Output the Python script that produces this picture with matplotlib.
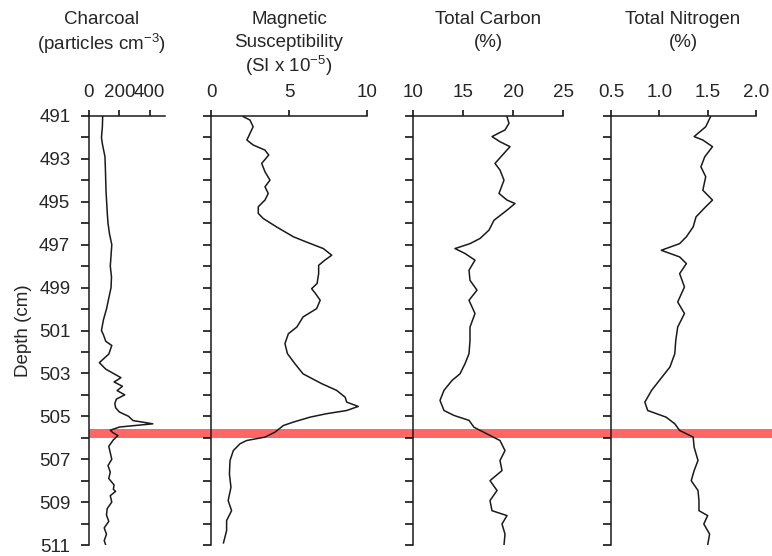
import matplotlib.pyplot as plt
from matplotlib.patches import Rectangle
from matplotlib.transforms import blended_transform_factory

plt.rcParams['font.family'] = ['Liberation Sans', 'DejaVu Sans']
plt.rcParams['mathtext.fontset'] = 'custom'
plt.rcParams['mathtext.rm'] = 'Liberation Sans'
plt.rcParams['mathtext.it'] = 'Liberation Sans:italic'

# charcoal (particles cm-3)
char_depth = [491.0, 491.5, 492.0, 492.3, 492.9, 493.5, 494.0, 494.5, 495.0, 495.5,
              496.0, 496.5, 497.0, 497.5, 498.0, 498.5, 499.0, 499.5, 500.0, 500.5,
              501.0, 501.2, 501.5, 501.7, 501.9, 502.1, 502.5, 502.8, 503.0, 503.2,
              503.4, 503.6, 503.8, 504.0, 504.2, 504.4, 504.6, 504.8, 505.0, 505.2,
              505.35, 505.5, 505.65, 505.75, 505.9, 506.1, 506.4, 506.7, 507.0, 507.3,
              507.6, 507.9, 508.2, 508.4, 508.5, 508.7, 509.0, 509.3, 509.6, 509.9,
              510.2, 510.5, 510.8, 511.0]
charcoal = [90, 88, 82, 88, 105, 108, 110, 112, 116, 120,
            125, 135, 150, 145, 140, 148, 145, 130, 115, 95,
            82, 95, 110, 150, 140, 130, 68, 110, 160, 210,
            165, 220, 185, 235, 180, 170, 175, 200, 260, 290,
            420, 200, 140, 155, 190, 160, 130, 140, 150, 125,
            140, 130, 165, 160, 175, 140, 150, 120, 115, 130,
            100, 115, 100, 110]

# magnetic susceptibility (SI x 10^-5)
mag_depth = [491.03, 491.19, 491.5, 491.81, 492.12, 492.35, 492.59, 492.82, 493.21, 493.6,
             493.99, 494.3, 494.61, 494.92, 495.23, 495.54, 495.78, 496.17, 496.63, 496.87,
             497.18, 497.49, 497.72, 497.96, 498.35, 498.81, 499.05, 499.28, 499.59, 499.98,
             500.37, 500.84, 501.15, 501.61, 502.08, 502.55, 503.02, 503.48, 503.79, 504.11,
             504.34, 504.54, 504.73, 504.88, 505.04, 505.27, 505.43, 505.74, 505.97, 506.13,
             506.28, 506.6, 507.06, 507.69, 508.31, 508.93, 509.4, 509.86, 510.33, 510.9]
magnetic = [2.07, 2.5, 2.7, 2.5, 2.3, 2.7, 3.46, 3.7, 3.25, 3.46,
            3.78, 3.46, 3.67, 3.46, 3.03, 3.03, 3.35, 4.2, 5.28, 6.1,
            7.2, 7.74, 7.3, 6.9, 6.9, 6.8, 6.45, 6.7, 7.0, 6.77,
            5.9, 5.5, 4.96, 4.74, 4.9, 5.38, 5.9, 7.1, 8.05, 8.6,
            8.7, 9.44, 8.7, 7.4, 6.35, 5.28, 4.64, 4.1, 3.46, 2.28,
            1.86, 1.43, 1.22, 1.18, 1.28, 1.1, 1.32, 1.0, 1.0, 0.8]

# total carbon (%)
carb_depth = [491.03, 491.34, 491.65, 491.96, 492.2, 492.43, 492.74, 493.21, 493.52, 493.99,
              494.61, 494.92, 495.08, 495.39, 495.86, 496.32, 496.71, 496.95, 497.18, 497.41,
              497.72, 498.19, 498.66, 499.12, 499.59, 500.21, 500.84, 501.46, 502.08, 502.55,
              503.02, 503.33, 503.79, 504.26, 504.73, 504.96, 505.19, 505.51, 505.82, 506.13,
              506.6, 507.06, 507.53, 508.0, 508.46, 508.93, 509.4, 509.63, 510.02, 510.49, 511.0]
carbon = [19.4, 19.6, 19.2, 17.9, 18.7, 19.7, 19.1, 18.2, 18.7, 19.1,
          18.6, 19.4, 20.2, 19.4, 18.1, 17.6, 16.7, 15.7, 14.2, 15.2,
          16.2, 15.6, 15.7, 16.4, 15.6, 16.2, 15.7, 15.7, 15.6, 15.2,
          14.7, 13.9, 13.1, 12.7, 13.1, 14.1, 15.6, 16.1, 17.4, 18.7,
          19.2, 18.7, 18.9, 17.7, 18.4, 17.7, 17.9, 19.4, 18.9, 19.2, 19.1]

# total nitrogen (%)
nit_depth = [491.03, 491.5, 491.96, 492.12, 492.43, 492.9, 493.37, 493.83, 494.46, 494.92,
             495.23, 495.7, 496.17, 496.63, 496.95, 497.26, 497.57, 497.88, 498.35, 498.97,
             499.67, 500.21, 500.84, 501.46, 502.08, 502.7, 503.33, 503.79, 504.34, 504.73,
             505.04, 505.35, 505.66, 505.97, 506.44, 507.06, 507.53, 508.0, 508.46, 508.93,
             509.4, 509.63, 510.02, 510.49, 511.0]
nitrogen = [1.53, 1.48, 1.36, 1.45, 1.55, 1.47, 1.43, 1.48, 1.45, 1.55,
            1.48, 1.38, 1.35, 1.28, 1.21, 1.02, 1.21, 1.28, 1.21, 1.26,
            1.19, 1.26, 1.19, 1.17, 1.16, 1.11, 1.0, 0.92, 0.85, 0.88,
            1.07, 1.16, 1.21, 1.35, 1.36, 1.40, 1.36, 1.33, 1.40, 1.41,
            1.41, 1.50, 1.46, 1.52, 1.50]

titles = [['Charcoal', '(particles cm$^{-3}$)'],
          ['Magnetic', 'Susceptibility', '(SI x 10$^{-5}$)'],
          ['Total Carbon', '(%)'],
          ['Total Nitrogen', '(%)']]
xlims = [(0, 500), (0, 10), (10, 25), (0.5, 2.0)]
xticks = [[0, 200, 400], [0, 5, 10], [10, 15, 20, 25], [0.5, 1.0, 1.5, 2.0]]
xticklabels = [['0', '200', '400'], ['0', '5', '10'], ['10', '15', '20', '25'],
               ['0.5', '1.0', '1.5', '2.0']]
event_depth = (505.6, 506.03)

W, H = 772, 556
fig = plt.figure(figsize=(W / 100, H / 100), dpi=100)

panels_px = [(89, 165), (211, 367), (413, 563), (611, 756)]
title_x_px = [102, 289, 488, 683]
top_px, bot_px = 116, 545
fs = 13.5
txt_color = '#262626'

series = [(charcoal, char_depth), (magnetic, mag_depth),
          (carbon, carb_depth), (nitrogen, nit_depth)]

axes = []
for i, ((x0, x1), (vals, dep)) in enumerate(zip(panels_px, series)):
    ax = fig.add_axes([x0 / W, 1 - bot_px / H, (x1 - x0) / W, (bot_px - top_px) / H])
    ax.set_facecolor('none')
    ax.plot(vals, dep, color='#1a1a1a', lw=1.1, zorder=3)
    ax.set_xlim(*xlims[i])
    ax.set_ylim(511, 491)
    ax.xaxis.tick_top()
    ax.set_xticks(xticks[i])
    ax.set_xticklabels(xticklabels[i])
    ax.set_yticks(range(491, 512))
    if i == 0:
        ax.set_yticklabels([str(d) if d % 2 == 1 else '' for d in range(491, 512)])
        ax.set_ylabel('Depth (cm)', fontsize=fs, labelpad=5, color=txt_color)
    else:
        ax.set_yticklabels([])
    for s in ['right', 'bottom']:
        ax.spines[s].set_visible(False)
    for s in ['top', 'left']:
        ax.spines[s].set_linewidth(1.1)
        ax.spines[s].set_color('#1a1a1a')
    ax.tick_params(axis='y', direction='out', length=5.5, width=1.1,
                   labelsize=fs, pad=8, labelcolor=txt_color)
    ax.tick_params(axis='x', direction='out', length=4.5, width=1.1,
                   labelsize=fs, pad=6, labelcolor=txt_color)
    for j, line in enumerate(titles[i]):
        fig.text(title_x_px[i] / W, 1 - (18 + 22.5 * j) / H, line, ha='center',
                 va='center_baseline', fontsize=fs, color=txt_color)
    axes.append(ax)

# red event band across all panels
trans = blended_transform_factory(fig.transFigure, axes[0].transData)
band = Rectangle((89 / W, event_depth[0]), 1 - 89 / W, event_depth[1] - event_depth[0],
                 transform=trans, facecolor='#ff5f5f', edgecolor='none',
                 alpha=0.95, zorder=-1)
fig.add_artist(band)

fig.savefig('out.png', dpi=100)
